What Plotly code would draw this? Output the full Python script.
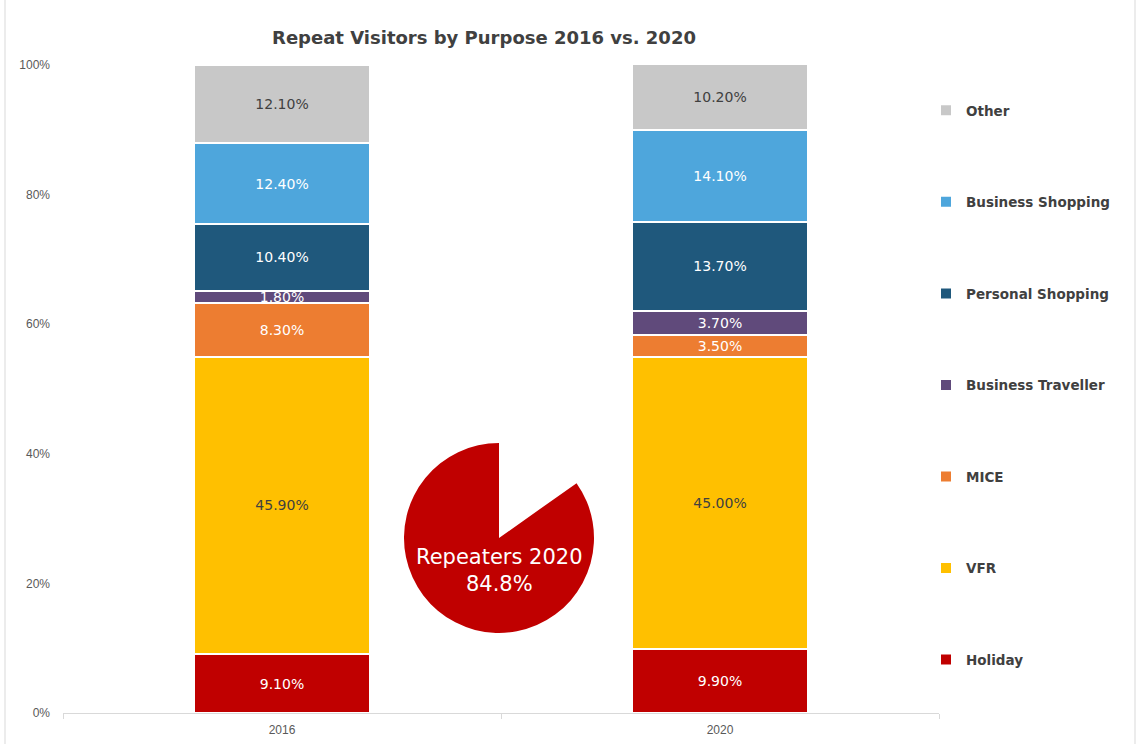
import plotly.graph_objects as go

years = ["2016", "2020"]
series_names = ["Holiday", "VFR", "MICE", "Business Traveller", "Personal Shopping", "Business Shopping", "Other"]
holiday = [0.091, 0.099]
vfr = [0.459, 0.450]
mice = [0.083, 0.035]
business_traveller = [0.018, 0.037]
personal_shopping = [0.104, 0.137]
business_shopping = [0.124, 0.141]
other = [0.121, 0.102]
colors = ["#C00000", "#FFC000", "#ED7D31", "#604A7B", "#1F587C", "#4EA6DC", "#C8C8C8"]
label_colors = ["white", "#404040", "white", "white", "white", "white", "#404040"]

repeaters_label = "Repeaters 2020"
repeaters_share = [15.2, 84.8]

values = [holiday, vfr, mice, business_traveller, personal_shopping, business_shopping, other]

# plot area pixels
W, H = 1138, 744
L, R, T, B = 63, 199, 65, 31
pw, ph = W - L - R, H - T - B

fig = go.Figure()
n = len(series_names)
for i, (name, vals) in enumerate(zip(series_names, values)):
    fig.add_trace(go.Bar(
        x=years, y=vals, name=name,
        marker=dict(color=colors[i], line=dict(color="white", width=2)),
        texttemplate="%{y:.2%}", textposition="inside", insidetextanchor="middle",
        constraintext="none",
        textfont=dict(family="DejaVu Sans", size=14, color=label_colors[i]),
        legendgroup=name, legendrank=n - i, hoverinfo="skip",
    ))

# pie overlay
cx, cy, r = 499, 538, 95
fig.add_trace(go.Pie(
    values=repeaters_share, labels=["Other", "Repeaters"],
    sort=False, direction="clockwise", rotation=0,
    marker=dict(colors=["rgba(0,0,0,0)", "#C00000"], line=dict(width=0)),
    textinfo="none", showlegend=False, hoverinfo="skip",
    domain=dict(x=[(cx - r - L) / pw, (cx + r - L) / pw],
                y=[(H - B - (cy + r)) / ph, (H - B - (cy - r)) / ph]),
))
fig.add_annotation(
    x=(499 - L) / pw, y=(H - B - 570) / ph, xref="paper", yref="paper",
    xanchor="center", yanchor="middle",
    text=f"{repeaters_label}<br>{repeaters_share[1]}%", showarrow=False,
    font=dict(family="DejaVu Sans", size=21, color="white"),
    align="center",
)

# chart frame
for xp in [5, 1135]:
    fig.add_shape(type="line", xref="paper", yref="paper",
                  x0=(xp - L) / pw, x1=(xp - L) / pw,
                  y0=-B / ph, y1=(H - B) / ph,
                  line=dict(color="#D9D9D9", width=1))

fig.update_layout(
    width=W, height=H,
    barmode="stack", bargap=0.6,
    margin=dict(l=L, r=R, t=T, b=B, autoexpand=False),
    plot_bgcolor="white", paper_bgcolor="white",
    title=dict(text="Repeat Visitors by Purpose 2016 vs. 2020", x=484 / W, xanchor="center",
               y=1 - 38 / H, yanchor="middle",
               font=dict(family="DejaVu Sans", size=18, color="#404040", weight="bold")),
    legend=dict(x=(926 - L) / pw, xanchor="left", y=(H - B - 95) / ph, yanchor="top",
                traceorder="grouped", tracegroupgap=71,
                font=dict(family="DejaVu Sans", size=13.5, color="#404040", weight="bold"),
                bgcolor="rgba(0,0,0,0)", itemwidth=30),
    xaxis=dict(showline=True, linecolor="#D9D9D9", linewidth=1, ticks="outside",
               tickson="boundaries", tickcolor="#D9D9D9", ticklen=5,
               ticklabelstandoff=6,
               tickfont=dict(family="Liberation Sans", size=12, color="#595959"),
               showgrid=False, fixedrange=True),
    yaxis=dict(range=[0, 1], dtick=0.2, tickformat=".0%", showgrid=False, zeroline=False,
               showline=False, ticks="", ticklabelstandoff=12,
               tickfont=dict(family="Liberation Sans", size=12, color="#595959")),
    showlegend=True,
)

fig.write_html("out.html", config={"displayModeBar": False},
               post_script="document.body.style.margin='0';")
